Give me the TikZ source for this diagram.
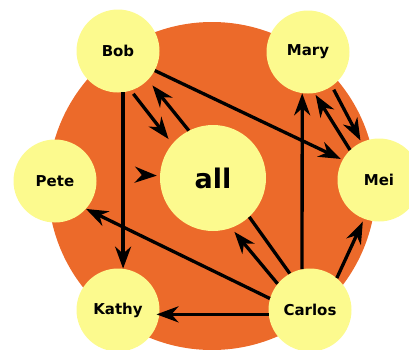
\documentclass[tikz,border=0pt]{standalone}
\usepackage{fontspec}
\setmainfont{DejaVu Sans}
\usetikzlibrary{arrows.meta}
\definecolor{disc}{RGB}{236,106,42}
\definecolor{pale}{RGB}{252,250,142}
\tikzset{
  person/.style={circle, fill=pale, minimum size=83pt, inner sep=0pt,
    font=\fontsize{15}{17}\selectfont\bfseries},
  arr/.style={line width=3.3pt, -{Stealth[length=22pt,width=16pt,inset=7pt]}},
  bar/.style={line width=3.3pt}
}
\begin{document}
\begin{tikzpicture}[x=1pt,y=-1pt]
  \clip (0,0) rectangle (409,349);
  \fill[disc] (212,186) circle (164pt);

  \node[person] (Bob) at (118,51) {Bob};
  \node[person] (Mary) at (308,52) {Mary};
  \node[person] (Pete) at (55,181) {Pete};
  \node[person] (Mei) at (379,180) {Mei};
  \node[person] (Kathy) at (118,310) {Kathy};
  \node[person] (Carlos) at (310,310) {Carlos};
  \node[person, minimum size=106pt, font=\fontsize{27}{30}\selectfont\bfseries] (all) at (213,178) {all};
  \coordinate (aim) at (142,175);

  \draw[arr, shorten <=4pt, shorten >=6pt] (Bob.-72) -- (all.140);
  \draw[arr, shorten >=7pt] (all.117) -- (Bob.-44);
  \draw[arr, shorten >=2pt] (Bob.-28) -- (Mei.151);
  \draw[arr] (Bob.-83) -- (Kathy.83);
  \draw[arr, shorten >=3pt] (aim) -- (all);
  \draw[arr, shorten <=4pt, shorten >=2pt] (Mary.-55) -- (Mei.115);
  \draw[arr, shorten >=2pt] (Mei.134) -- (Mary.-81);
  \draw[arr] (Carlos.101) -- (Mary.-98);
  \draw[arr, shorten >=5pt] (Carlos.141) -- (all.-70);
  \draw[bar] (all.-47) -- (Carlos.119);
  \draw[arr] (Carlos.164) -- (Pete.-42);
  \draw[arr, shorten >=-3pt] (Carlos.186) -- (Kathy.-6);
  \draw[arr, shorten >=3pt] (Carlos.50) -- (Mei.-111);
\end{tikzpicture}
\end{document}
